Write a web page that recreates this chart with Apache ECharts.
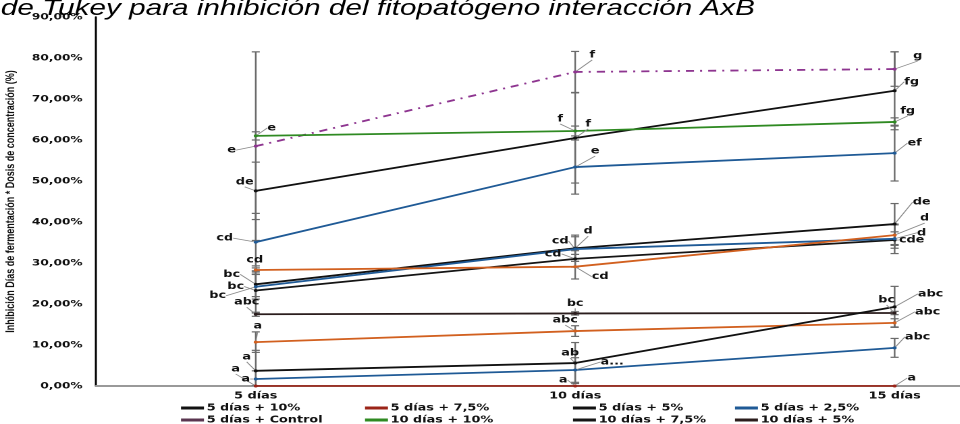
<!DOCTYPE html>
<html>
<head>
<meta charset="utf-8">
<script src="https://cdn.jsdelivr.net/npm/echarts/dist/echarts.min.js"></script>
<style>
  html, body { margin: 0; padding: 0; background: #fff; overflow: hidden; }
  #chart { height: 424px; transform-origin: 0 0; }
</style>
</head>
<body>
<div id="chart"></div>
<script>
// Horizontal stretch of the whole figure
const SX = 1.35;
const W = 960 / SX;

// Categories (días de fermentación)
const days = ['5 días', '10 días', '15 días'];

// Mean inhibition (%) for each treatment at 5, 10 and 15 días
const d5c10  = [47.6, 60.5, 72.0];
const d5c75  = [0.0, 0.0, 0.0];
const d5c5   = [24.8, 33.6, 39.5];
const d5c25  = [35.1, 53.4, 56.8];
const d5ctl  = [58.5, 76.6, 77.3];
const d10c10 = [61.0, 62.2, 64.4];
const d10c75 = [23.3, 31.0, 35.6];
const d10c5  = [17.5, 17.7, 17.8];
const d10c25 = [24.2, 33.4, 35.9];
const d10ctl = [28.3, 29.1, 36.8];
const d15c10 = [10.7, 13.4, 15.4];
const d15c75 = [3.7, 5.6, 19.3];
const d15c5  = [1.7, 3.9, 9.3];

// Error bar half-lengths (%)
const e5c10  = [7.0, 11.0, 9.5];
const e5c75  = [0, 0, 0];
const e5c5   = [3.0, 3.2, 5.0];
const e5c25  = [7.0, 6.6, 6.8];
const e5ctl  = [23.0, 5.0, 4.2];
const e10c10 = [1.0, 1.2, 1.0];
const e10c75 = [5.5, 2.0, 2.0];
const e10c5  = [0.5, 0.4, 0.4];
const e10c25 = [3.0, 3.0, 3.6];
const e10ctl = [1.0, 3.0, 2.5];
const e15c10 = [2.5, 1.3, 1.0];
const e15c75 = [5.0, 5.0, 5.0];
const e15c5  = [2.0, 3.0, 2.3];

// Tukey groupings
const t5c10  = ['de', 'f', 'fg'];
const t5c75  = ['a', 'a', 'a'];
const t5c5   = ['bc', 'd', 'de'];
const t5c25  = ['cd', 'e', 'ef'];
const t5ctl  = ['e', 'f', 'g'];
const t10c10 = ['e', 'f', 'fg'];
const t10c75 = ['bc', 'cd', 'cde'];
const t10c5  = ['abc', 'bc', 'bc'];
const t10c25 = ['bc', 'cd', 'd'];
const t10ctl = ['cd', 'cd', 'd'];
const t15c10 = ['a', 'abc', 'abc'];
const t15c75 = ['a', 'ab', 'abc'];
const t15c5  = ['a', 'a...', 'abc'];

const treatments = [
  { name: '5 días + 10%',      mean: d5c10,  err: e5c10,  tukey: t5c10 },
  { name: '5 días + 7,5%',     mean: d5c75,  err: e5c75,  tukey: t5c75 },
  { name: '5 días + 5%',       mean: d5c5,   err: e5c5,   tukey: t5c5 },
  { name: '5 días + 2,5%',     mean: d5c25,  err: e5c25,  tukey: t5c25 },
  { name: '5 días + Control',  mean: d5ctl,  err: e5ctl,  tukey: t5ctl },
  { name: '10 días + 10%',     mean: d10c10, err: e10c10, tukey: t10c10 },
  { name: '10 días + 7,5%',    mean: d10c75, err: e10c75, tukey: t10c75 },
  { name: '10 días + 5%',      mean: d10c5,  err: e10c5,  tukey: t10c5 },
  { name: '10 días + 2,5%',    mean: d10c25, err: e10c25, tukey: t10c25 },
  { name: '10 días + Control', mean: d10ctl, err: e10ctl, tukey: t10ctl },
  { name: '15 días + 10%',     mean: d15c10, err: e15c10, tukey: t15c10 },
  { name: '15 días + 7,5%',    mean: d15c75, err: e15c75, tukey: t15c75 },
  { name: '15 días + 5%',      mean: d15c5,  err: e15c5,  tukey: t15c5 }
];

// Styling per treatment
const colors = ['#111111', '#9b2418', '#111111', '#1f5a96', '#8e3590', '#2f8a22',
                '#151515', '#2b1d1d', '#1f5a96', '#d2601f', '#d2601f', '#111111', '#1f5a96'];
const legendIconColors = { 4: '#5a3550' };
const dashes = { 4: [6, 4.5, 1.5, 4.5] };

// Label placement (screen px, label centre relative to its point)
const labelShift = [
  [[-11, -9], [13, -14], [17, -9]],
  [[-20, -17], [-12, -6], [17, -8]],
  [[-24, -10], [13, -17], [27, -22]],
  [[-31, -4], [20, -16], [20, -10]],
  [[-24, 4], [17, -17], [23, -13]],
  [[16, -8], [-15, -12], [13, -11]],
  [[-20, -4], [-22, -5], [17, 0]],
  [[-9, -12], [0, -10], [-8, -13]],
  [[-38, 9], [-15, -8], [27, -6]],
  [[-1, -10], [25, 10], [30, -17]],
  [[2, -16], [-10, -11], [33, -11]],
  [[-9, -14], [-5, -10], [36, -13]],
  [[-10, 0], [37, -8], [23, -11]]
];

const boldFont = "'DejaVu Sans', Verdana, sans-serif";

const el = document.getElementById('chart');
el.style.width = W + 'px';
el.style.transform = 'scaleX(' + SX + ')';

const chart = echarts.init(el, null, { renderer: 'canvas', devicePixelRatio: 2 });

// Error bars
const errData = [];
treatments.forEach((t) => {
  t.mean.forEach((v, j) => errData.push([j, v, t.err[j]]));
});

const errorSeries = {
  type: 'custom',
  z: 1,
  silent: true,
  clip: true,
  data: errData,
  renderItem: function (params, api) {
    const x = api.value(0), v = api.value(1), e = api.value(2);
    if (!e) return null;
    const hi = api.coord([x, v + e]);
    const lo = api.coord([x, Math.max(0, v - e)]);
    const cap = 3;
    const style = { stroke: '#6a6a6a', lineWidth: 1.2 };
    return {
      type: 'group',
      children: [
        { type: 'line', shape: { x1: hi[0], y1: hi[1], x2: lo[0], y2: lo[1] }, style },
        { type: 'line', shape: { x1: hi[0] - cap, y1: hi[1], x2: hi[0] + cap, y2: hi[1] }, style },
        { type: 'line', shape: { x1: lo[0] - cap, y1: lo[1], x2: lo[0] + cap, y2: lo[1] }, style }
      ]
    };
  }
};

const lineSeries = treatments.map((t, i) => ({
  type: 'line',
  name: t.name,
  data: t.mean,
  z: 2,
  symbol: 'circle',
  symbolSize: 3,
  showSymbol: true,
  itemStyle: { color: colors[i] },
  lineStyle: { color: colors[i], width: 1.8, type: dashes[i] || 'solid' },
  emphasis: { disabled: true },
  label: {
    show: true,
    position: 'inside',
    formatter: p => t.tukey[p.dataIndex],
    color: '#111',
    fontFamily: boldFont,
    fontWeight: 'bold',
    fontSize: 9.5
  },
  labelLayout: p => ({
    dx: labelShift[i][p.dataIndex][0] / SX,
    dy: labelShift[i][p.dataIndex][1]
  }),
  labelLine: { show: true, lineStyle: { color: '#8a8a8a', width: 0.8 } }
}));

// Legend: four columns, two rows fit on the page
const legendColX = [181, 365, 573, 735];
const legendRowY = [402, 414];
const legendOrder = [[0, 1, 2, 3], [4, 5, 6, 7]];
const legends = [];
legendOrder.forEach((row, r) => {
  row.forEach((k, c) => {
    const item = { name: treatments[k].name };
    if (legendIconColors[k]) item.itemStyle = { color: legendIconColors[k] };
    legends.push({
      orient: 'horizontal',
      left: legendColX[c] / SX,
      top: legendRowY[r],
      padding: 0,
      itemWidth: 17,
      itemHeight: 3,
      itemGap: 0,
      icon: 'rect',
      selectedMode: false,
      data: [item],
      textStyle: {
        color: '#111',
        fontFamily: boldFont,
        fontWeight: 'bold',
        fontSize: 9.5,
        lineHeight: 12,
        padding: [0, 0, 0, -3]
      }
    });
  });
});

const option = {
  animation: false,
  backgroundColor: '#fff',
  title: {
    text: 'Prueba de Tukey para inhibición del fitopatógeno interacción AxB',
    right: W - 755 / SX,
    top: -2,
    padding: 0,
    textStyle: {
      fontFamily: "'Liberation Sans', Arial, sans-serif",
      fontStyle: 'italic',
      fontWeight: 'normal',
      fontSize: 22,
      color: '#000'
    }
  },
  legend: legends,
  grid: {
    left: 96 / SX,
    right: W - (96 + 3 * 319.5) / SX,
    top: 17,
    bottom: 38,
    containLabel: false,
    outerBoundsMode: 'none'
  },
  xAxis: {
    type: 'category',
    data: days,
    boundaryGap: true,
    axisLine: { show: true, lineStyle: { color: '#999', width: 2 } },
    axisTick: { show: false },
    splitLine: { show: false },
    axisLabel: {
      color: '#111',
      fontFamily: boldFont,
      fontWeight: 'bold',
      fontSize: 9.5,
      margin: 5
    }
  },
  yAxis: {
    type: 'value',
    min: 0,
    max: 90,
    interval: 10,
    name: 'Inhibición Días de fermentación * Dosis de concentración (%)',
    nameLocation: 'middle',
    nameGap: 51,
    nameTextStyle: {
      color: '#111',
      fontFamily: "'Liberation Sans', Arial, sans-serif",
      fontWeight: 'bold',
      fontSize: 9
    },
    axisLine: { show: true, lineStyle: { color: '#000', width: 1.5 } },
    axisTick: { show: false },
    splitLine: { show: false },
    axisLabel: {
      color: '#111',
      fontFamily: boldFont,
      fontWeight: 'bold',
      fontSize: 9,
      margin: 10,
      formatter: v => v.toFixed(2).replace('.', ',') + '%'
    }
  },
  series: [errorSeries].concat(lineSeries)
};

chart.setOption(option);
</script>
</body>
</html>
